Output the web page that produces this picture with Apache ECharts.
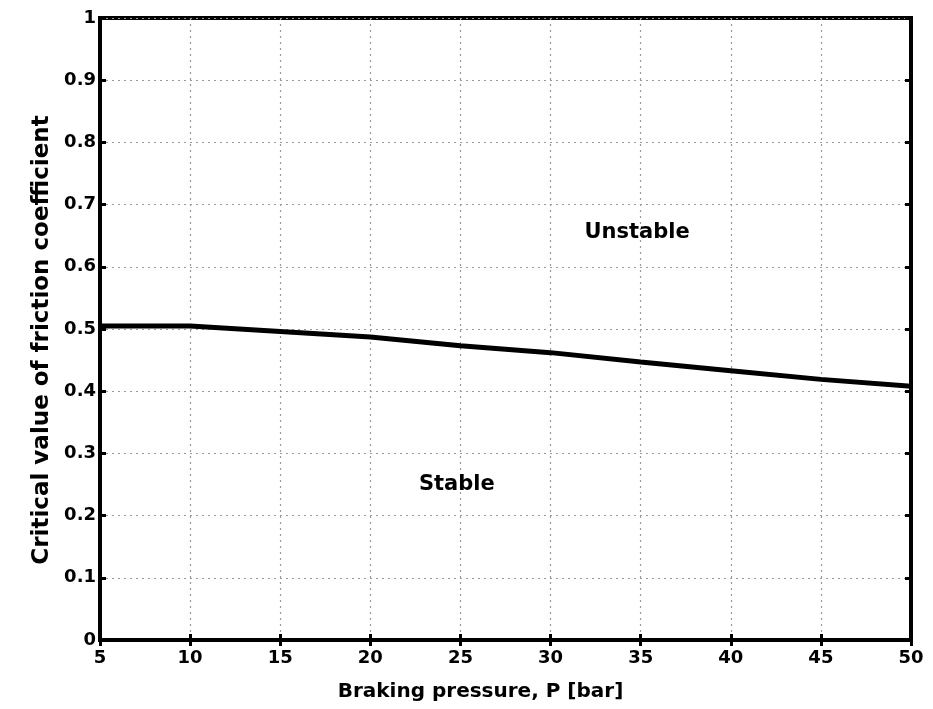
<!DOCTYPE html>
<html>
<head>
<meta charset="utf-8">
<script src="https://cdn.jsdelivr.net/npm/echarts@6/dist/echarts.min.js"></script>
<style>
html,body{margin:0;padding:0;background:#fff;}
#chart{width:933px;height:709px;}
</style>
</head>
<body>
<div id="chart"></div>
<script>
var pressure = [5, 10, 15, 20, 25, 30, 35, 40, 45, 50];
var criticalMu = [0.505, 0.505, 0.496, 0.487, 0.473, 0.462, 0.447, 0.433, 0.419, 0.408];
var regionLabels = ['Unstable', 'Stable'];
var regionX = [34.8, 24.8];
var regionY = [0.655, 0.25];
var xTicks = [5, 10, 15, 20, 25, 30, 35, 40, 45, 50];
var yTicks = [0, 0.1, 0.2, 0.3, 0.4, 0.5, 0.6, 0.7, 0.8, 0.9, 1];

var FONT = 'DejaVu Sans';
var chart = echarts.init(document.getElementById('chart'), null, {renderer: 'canvas'});

var lineData = pressure.map(function (p, i) { return [p, criticalMu[i]]; });
var labelData = regionLabels.map(function (t, i) { return {value: [regionX[i], regionY[i]], name: t}; });

var tickLabel = {fontFamily: FONT, fontWeight: 'bold', fontSize: 18, color: '#000'};

chart.setOption({
  animation: false,
  backgroundColor: '#fff',
  grid: {left: 100, right: 22, top: 18, bottom: 69, show: true, borderColor: '#000', borderWidth: 4, backgroundColor: 'transparent'},
  xAxis: [{
    type: 'value', min: 5, max: 50, interval: 5,
    name: 'Braking pressure, P [bar]', nameLocation: 'middle', nameGap: 42,
    nameTextStyle: {fontFamily: FONT, fontWeight: 'bold', fontSize: 20, color: '#000', padding: [0, 50, 0, 0]},
    axisLine: {show: true, lineStyle: {color: '#000', width: 4}},
    axisTick: {show: true, inside: true, length: 6, lineStyle: {color: '#000', width: 3}},
    axisLabel: Object.assign({margin: 9, formatter: function (v) { return String(v); }}, tickLabel),
    splitLine: {show: true, lineStyle: {color: '#999', type: [2, 4], width: 1.2}}
  }, {
    type: 'value', min: 5, max: 50, interval: 5, position: 'top',
    axisLine: {show: true, lineStyle: {color: '#000', width: 4}},
    axisTick: {show: true, inside: true, length: 6, lineStyle: {color: '#000', width: 3}},
    axisLabel: {show: false}, splitLine: {show: false}
  }],
  yAxis: [{
    type: 'value', min: 0, max: 1, interval: 0.1,
    name: 'Critical value of friction coefficient', nameLocation: 'middle', nameGap: 46,
    nameTextStyle: {fontFamily: FONT, fontWeight: 'bold', fontSize: 23, color: '#000', padding: [0, 22, 0, 0]},
    axisLine: {show: true, lineStyle: {color: '#000', width: 4}},
    axisTick: {show: true, inside: true, length: 6, lineStyle: {color: '#000', width: 3}},
    axisLabel: Object.assign({margin: 4, formatter: function (v) { return String(+v.toFixed(1)); }}, tickLabel),
    splitLine: {show: true, lineStyle: {color: '#999', type: [2, 4], width: 1.2}}
  }, {
    type: 'value', min: 0, max: 1, interval: 0.1, position: 'right',
    axisLine: {show: true, lineStyle: {color: '#000', width: 4}},
    axisTick: {show: true, inside: true, length: 6, lineStyle: {color: '#000', width: 3}},
    axisLabel: {show: false}, splitLine: {show: false}
  }],
  series: [{
    type: 'line', data: lineData, xAxisIndex: 0, yAxisIndex: 0,
    symbol: 'none', smooth: false,
    lineStyle: {color: '#000', width: 5}
  }, {
    type: 'scatter', data: labelData, xAxisIndex: 0, yAxisIndex: 0,
    symbolSize: 0, itemStyle: {opacity: 1},
    label: {show: true, position: 'inside', formatter: '{b}', fontFamily: FONT, fontWeight: 'bold', fontSize: 21, color: '#000', opacity: 1}
  }]
});
</script>
</body>
</html>
